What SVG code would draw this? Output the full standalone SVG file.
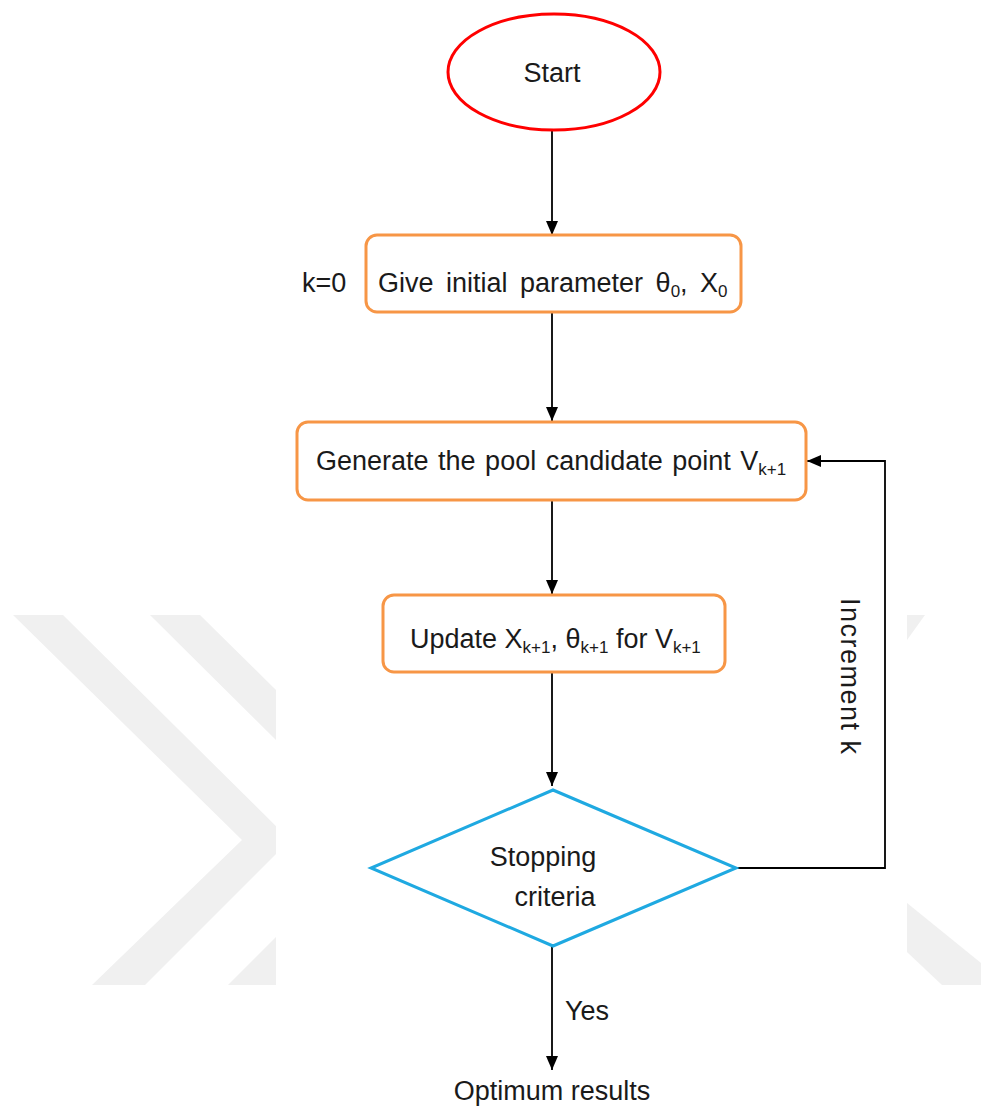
<svg xmlns="http://www.w3.org/2000/svg" width="981" height="1107" viewBox="0 0 981 1107">
<defs>
<style>
.t{font-family:"Liberation Sans",Arial,sans-serif;font-size:27px;fill:#1a1a1a}
.box{fill:#fff;stroke:#f79646;stroke-width:3}
.wm{fill:#f0f0f0}
.c{stroke:#000;stroke-width:1.8;fill:none}
</style>
<marker id="ah" markerUnits="userSpaceOnUse" markerWidth="14" markerHeight="12" refX="14" refY="6" orient="auto">
<path d="M0,0 L14,6 L0,12 z" fill="#000"/>
</marker>
</defs>
<rect width="981" height="1107" fill="#fff"/>
<g id="watermark">
<polygon class="wm" points="13,615 63,615 290,840 145,985 92,985 242,840"/>
<polygon class="wm" points="150,615 200,615 276,690 276,740"/>
<polygon class="wm" points="228,985 276,937 276,985"/>
<polygon class="wm" points="907,615 925,615 907,640"/>
<polygon class="wm" points="907,903 981,963 981,985 942,985 907,952"/>
<rect x="276" y="600" width="631" height="395" fill="#fff"/>
</g>
<g id="connectors">
<line class="c" x1="552" y1="130" x2="552" y2="235" marker-end="url(#ah)"/>
<line class="c" x1="552" y1="313" x2="552" y2="421" marker-end="url(#ah)"/>
<line class="c" x1="552" y1="500" x2="552" y2="594" marker-end="url(#ah)"/>
<line class="c" x1="552" y1="672" x2="552" y2="786" marker-end="url(#ah)"/>
<line class="c" x1="552" y1="946" x2="552" y2="1070" marker-end="url(#ah)"/>
<polyline class="c" points="736,868 885,868 885,461 807,461" marker-end="url(#ah)"/>
<text class="t" font-size="24" letter-spacing="1.5" transform="translate(841,598) rotate(90)">Increment k</text>
<text class="t" x="565" y="1020" font-size="25">Yes</text>
</g>
<g id="start">
<ellipse cx="554" cy="72" rx="106" ry="58" fill="#fff" stroke="#ff0000" stroke-width="3"/>
<text class="t" x="552" y="82" text-anchor="middle">Start</text>
</g>
<g id="init">
<text class="t" x="302" y="292">k=0</text>
<rect class="box" x="366" y="235" width="375" height="77" rx="11"/>
<text class="t" x="378" y="292" font-size="28" word-spacing="5">Give initial parameter θ<tspan font-size="17" dy="5">0</tspan><tspan dy="-5">, X</tspan><tspan font-size="17" dy="5">0</tspan></text>
</g>
<g id="generate">
<rect class="box" x="297" y="422" width="509" height="78" rx="11"/>
<text class="t" x="316" y="470" font-size="28" word-spacing="2">Generate the pool candidate point V<tspan font-size="17" dy="5">k+1</tspan></text>
</g>
<g id="update">
<rect class="box" x="383" y="595" width="342" height="77" rx="11"/>
<text class="t" x="410" y="648">Update X<tspan font-size="17" dy="5">k+1</tspan><tspan dy="-5">, θ</tspan><tspan font-size="17" dy="5">k+1</tspan><tspan dy="-5"> for V</tspan><tspan font-size="17" dy="5">k+1</tspan></text>
</g>
<g id="decision">
<polygon points="553,790 736,868 553,946 371,868" fill="#fff" stroke="#1fa9e1" stroke-width="3"/>
<text class="t" x="543" y="866" text-anchor="middle">Stopping</text>
<text class="t" x="555" y="906" text-anchor="middle">criteria</text>
</g>
<g id="result">
<text class="t" x="552" y="1100" text-anchor="middle">Optimum results</text>
</g>
</svg>
